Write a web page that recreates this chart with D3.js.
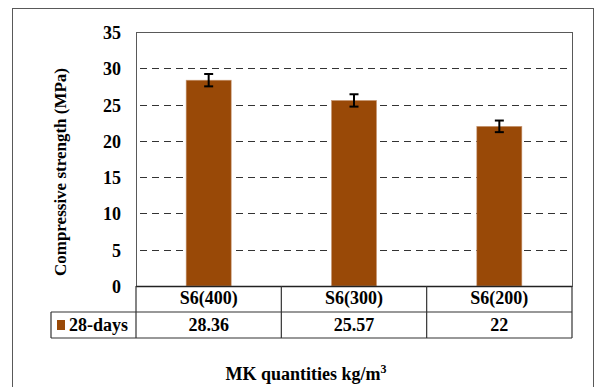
<!DOCTYPE html>
<html>
<head>
<meta charset="utf-8">
<script src="https://cdn.jsdelivr.net/npm/d3@7"></script>
<style>
  body { margin: 0; background: #fff; }
  text { font-family: "Times New Roman", "Liberation Serif", "DejaVu Serif", serif; font-weight: bold; fill: #000; }
</style>
</head>
<body>
<div id="chart"></div>
<script>
// data
var categories = ["S6(400)", "S6(300)", "S6(200)"];
var seriesName = "28-days";
var values = [28.36, 25.57, 22];
var errors = [0.85, 0.85, 0.8];
var yTicks = [0, 5, 10, 15, 20, 25, 30, 35];

var W = 599, H = 387;
var svg = d3.select("#chart").append("svg")
    .attr("width", W).attr("height", H);

// outer frame
svg.append("rect")
    .attr("x", 12.5).attr("y", 8.5)
    .attr("width", 581).attr("height", 400)
    .attr("fill", "#fff").attr("stroke", "#595959").attr("stroke-width", 1);

var pLeft = 136, pRight = 572, pTop = 32, pBottom = 286;

var xScale = d3.scaleBand().domain(categories).range([pLeft, pRight]).paddingInner(0.69).paddingOuter(0.345);
var yScale = d3.scaleLinear().domain([0, 35]).range([pBottom, pTop]);

// plot area border
svg.append("rect")
    .attr("x", pLeft + 0.5).attr("y", pTop + 0.5)
    .attr("width", pRight - pLeft).attr("height", pBottom - pTop)
    .attr("fill", "none").attr("stroke", "#595959");

// gridlines
svg.append("g").selectAll("line")
    .data(yTicks.filter(function(d){ return d > 0 && d < 35; }))
    .enter().append("line")
    .attr("x1", pLeft + 4).attr("x2", pRight - 3)
    .attr("y1", function(d){ return Math.round(yScale(d)) + 0.5; })
    .attr("y2", function(d){ return Math.round(yScale(d)) + 0.5; })
    .attr("stroke", "#333").attr("stroke-width", 1.2)
    .attr("stroke-dasharray", "7,5");

// y axis labels
svg.append("g").selectAll("text")
    .data(yTicks).enter().append("text")
    .attr("x", 121)
    .attr("y", function(d){ return yScale(d) + 7; })
    .attr("text-anchor", "end")
    .style("font-size", "18px")
    .text(function(d){ return d; });

// bars
svg.append("g").selectAll("rect")
    .data(values).enter().append("rect")
    .attr("x", function(d, i){ return xScale(categories[i]); })
    .attr("width", xScale.bandwidth())
    .attr("y", function(d){ return yScale(d); })
    .attr("height", function(d){ return pBottom - yScale(d); })
    .attr("fill", "#994907")
    .attr("stroke", "#c99a78").attr("stroke-width", 0.6);

// error bars
var eb = svg.append("g").attr("stroke", "#000").attr("stroke-width", 2);
values.forEach(function(v, i){
  var cx = xScale(categories[i]) + xScale.bandwidth() / 2;
  var y1 = yScale(v + errors[i]), y2 = yScale(v - errors[i]);
  eb.append("line").attr("x1", cx).attr("x2", cx).attr("y1", y1).attr("y2", y2);
  eb.append("line").attr("x1", cx - 4.5).attr("x2", cx + 4.5).attr("y1", y1).attr("y2", y1);
  eb.append("line").attr("x1", cx - 4.5).attr("x2", cx + 4.5).attr("y1", y2).attr("y2", y2);
});

// axis line
svg.append("line")
    .attr("x1", pLeft).attr("x2", pRight)
    .attr("y1", pBottom + 0.5).attr("y2", pBottom + 0.5)
    .attr("stroke", "#222").attr("stroke-width", 1.3);

// data table
var row1 = 312, row2 = 338, tableLeft = 51;
var tbl = svg.append("g").attr("stroke", "#333").attr("stroke-width", 1.2);
tbl.append("line").attr("x1", tableLeft).attr("x2", pRight).attr("y1", row1).attr("y2", row1);
tbl.append("line").attr("x1", tableLeft).attr("x2", pRight).attr("y1", row2).attr("y2", row2);
tbl.append("line").attr("x1", tableLeft).attr("x2", tableLeft).attr("y1", row1).attr("y2", row2);
var step = (pRight - pLeft) / categories.length;
d3.range(categories.length + 1).forEach(function(k){
  var x = pLeft + k * step;
  tbl.append("line").attr("x1", x).attr("x2", x).attr("y1", pBottom).attr("y2", row2);
});

svg.append("g").selectAll("text")
    .data(categories).enter().append("text")
    .attr("x", function(d){ return xScale(d) + xScale.bandwidth() / 2; })
    .attr("y", 304)
    .attr("text-anchor", "middle")
    .style("font-size", "18px")
    .text(function(d){ return d; });

svg.append("g").selectAll("text")
    .data(values).enter().append("text")
    .attr("x", function(d, i){ return xScale(categories[i]) + xScale.bandwidth() / 2; })
    .attr("y", 331)
    .attr("text-anchor", "middle")
    .style("font-size", "18px")
    .text(function(d){ return d; });

// legend key in table
svg.append("rect")
    .attr("x", 57).attr("y", 320).attr("width", 8).attr("height", 10)
    .attr("fill", "#994907");
svg.append("text")
    .attr("x", 69).attr("y", 331)
    .style("font-size", "18px")
    .text(seriesName);

// axis titles
svg.append("text")
    .attr("transform", "translate(66,172) rotate(-90)")
    .attr("text-anchor", "middle")
    .style("font-size", "17px")
    .text("Compressive strength (MPa)");

var xt = svg.append("text")
    .attr("x", 306).attr("y", 380)
    .attr("text-anchor", "middle")
    .style("font-size", "18px");
xt.append("tspan").text("MK quantities kg/m");
xt.append("tspan").attr("dy", -7).style("font-size", "12px").text("3");
</script>
</body>
</html>
